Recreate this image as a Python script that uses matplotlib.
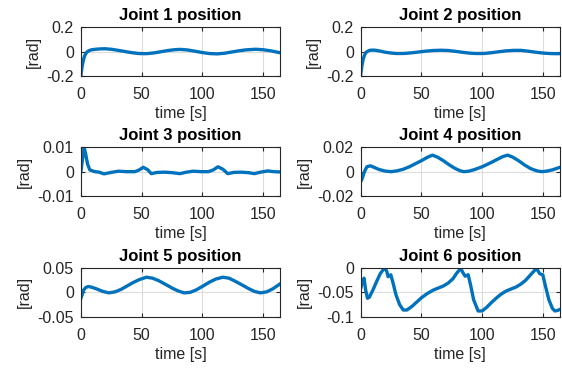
import matplotlib
matplotlib.use('Agg')
import matplotlib.pyplot as plt

plt.rcParams['font.family'] = ['Liberation Sans', 'DejaVu Sans']
plt.rcParams['axes.unicode_minus'] = False

# joint position data
t1 = [0, 1, 2, 3, 4, 5, 7, 9, 12, 16, 20, 25, 30, 36, 42, 48, 54, 60, 66, 72, 78, 82,
      88, 94, 100, 106, 112, 118, 124, 130, 136, 144, 150, 156, 160, 164]
j1 = [-0.19, -0.12, -0.07, -0.035, -0.015, -0.002, 0.01, 0.016, 0.02, 0.023, 0.024, 0.02,
      0.012, 0.002, -0.008, -0.015, -0.016, -0.01, 0.0, 0.01, 0.017, 0.019, 0.014, 0.004,
      -0.007, -0.015, -0.018, -0.013, -0.003, 0.007, 0.015, 0.02, 0.016, 0.008, 0.0, -0.008]

t2 = [0, 1, 2, 3, 4, 5, 7, 9, 12, 16, 20, 25, 30, 36, 42, 48, 54, 60, 66, 72, 78, 84,
      90, 96, 102, 108, 114, 120, 126, 132, 138, 144, 150, 156, 160, 164]
j2 = [-0.18, -0.11, -0.06, -0.03, -0.01, 0.0, 0.01, 0.013, 0.012, 0.005, -0.004, -0.011,
      -0.015, -0.014, -0.009, -0.002, 0.005, 0.01, 0.012, 0.01, 0.003, -0.005, -0.012,
      -0.015, -0.014, -0.008, 0.0, 0.007, 0.011, 0.011, 0.004, -0.004, -0.011, -0.015,
      -0.016, -0.016]

t3 = [0, 1, 2.7, 4, 5.5, 7.4, 11.5, 15, 19, 25, 31, 38, 44.5, 48, 51.4, 55, 58, 63, 69,
      75, 81.6, 87, 92.6, 99, 105, 109, 113, 117, 121, 126, 132, 138, 143, 148, 154, 159, 164]
j3 = [0.0, 0.004, 0.0098, 0.007, 0.003, 0.0007, 0.0, -0.0002, -0.0009, -0.0003, 0.0002,
      0.0, 0.0, 0.0007, 0.0018, 0.0008, -0.0008, -0.0003, -0.0002, -0.0004, -0.0008,
      -0.0002, 0.0002, 0.0, 0.0, 0.0007, 0.002, 0.001, -0.0008, -0.0003, -0.0002, -0.0004,
      -0.0008, -0.0002, 0.0003, 0.0, -0.0001]

t4 = [0, 1, 3, 5, 8, 11, 15, 20, 25, 30, 35, 40, 45, 50, 55, 59, 63, 68, 73, 78, 82, 85,
      89, 94, 100, 106, 112, 117, 121, 125, 130, 135, 140, 145, 149, 153, 158, 164]
j4 = [-0.008, -0.006, 0.0, 0.004, 0.0048, 0.0035, 0.0018, 0.0005, 0.0, 0.0007, 0.002,
      0.004, 0.0065, 0.009, 0.0118, 0.0135, 0.012, 0.009, 0.0055, 0.0025, 0.0007, 0.0,
      0.0004, 0.0018, 0.004, 0.0068, 0.0098, 0.0123, 0.0135, 0.012, 0.009, 0.0055, 0.0025,
      0.0007, 0.0, 0.0004, 0.0015, 0.0035]

t5 = [0, 1, 2, 4, 6, 9, 13, 18, 23, 28, 33, 38, 43, 48, 54, 59, 64, 70, 75, 80, 85, 90,
      95, 100, 106, 111, 117, 122, 127, 133, 138, 143, 148, 153, 158, 164]
j5 = [-0.012, -0.005, 0.004, 0.01, 0.012, 0.0105, 0.007, 0.002, -0.001, 0.001, 0.006,
      0.013, 0.02, 0.026, 0.031, 0.029, 0.024, 0.016, 0.009, 0.003, -0.001, 0.0, 0.005,
      0.012, 0.021, 0.027, 0.031, 0.029, 0.023, 0.015, 0.008, 0.002, -0.001, 0.001, 0.007,
      0.017]

t6 = [0, 1.2, 2.7, 4, 5.5, 7, 10, 13, 16, 18.4, 20.3, 21.5, 22.5, 24.7, 26.5, 29, 32, 35,
      38, 42, 46, 50, 55, 60, 64, 68, 72, 76, 79, 82.4, 84, 86, 88.5, 90.5, 93, 96.7, 100,
      104, 108, 112, 116, 120, 124, 128, 132, 136, 140.7, 144.8, 147.5, 150, 152, 155, 158,
      160, 162, 164]
j6 = [-0.041, -0.03, -0.021, -0.045, -0.062, -0.06, -0.045, -0.028, -0.012, -0.004,
      -0.001, -0.008, -0.018, -0.014, -0.03, -0.055, -0.075, -0.086, -0.086, -0.079, -0.07,
      -0.061, -0.052, -0.045, -0.041, -0.037, -0.031, -0.022, -0.011, -0.001, -0.009,
      -0.017, -0.014, -0.035, -0.065, -0.088, -0.088, -0.08, -0.07, -0.061, -0.053, -0.047,
      -0.043, -0.039, -0.033, -0.025, -0.012, -0.001, -0.012, -0.014, -0.035, -0.065,
      -0.083, -0.088, -0.087, -0.085]

times = [t1, t2, t3, t4, t5, t6]
joints = [j1, j2, j3, j4, j5, j6]
titles = ['Joint %d position' % (i + 1) for i in range(6)]
yticks = [[-0.2, 0, 0.2], [-0.2, 0, 0.2], [-0.01, 0, 0.01],
          [-0.02, 0, 0.02], [-0.05, 0, 0.05], [-0.1, -0.05, 0]]
ytick_labels = [['-0.2', '0', '0.2'], ['-0.2', '0', '0.2'], ['-0.01', '0', '0.01'],
                ['-0.02', '0', '0.02'], ['-0.05', '0', '0.05'], ['-0.1', '-0.05', '0']]
xticks = [0, 50, 100, 150]

fig = plt.figure(figsize=(5.62, 3.68), dpi=100)
lefts = [0.144, 0.642]
bottoms = [0.793, 0.467, 0.139]
w, h = 0.354, 0.133

for i in range(6):
    ax = fig.add_axes([lefts[i % 2], bottoms[i // 2], w, h])
    ax.plot(times[i], joints[i], color='#0072BD', linewidth=2.4)
    ax.set_xlim(0, 164)
    ax.set_ylim(yticks[i][0], yticks[i][-1])
    ax.set_xticks(xticks)
    ax.set_xticklabels([str(x) for x in xticks])
    ax.set_yticks(yticks[i])
    ax.set_yticklabels(ytick_labels[i])
    ax.grid(True, color='#dcdcdc', linewidth=0.8)
    ax.set_axisbelow(True)
    ax.tick_params(direction='in', length=3, labelsize=11.5, colors='#262626',
                   top=True, right=True, labelcolor='#262626')
    ax.tick_params(axis='x', pad=8)
    ax.tick_params(axis='y', pad=5)
    for s in ax.spines.values():
        s.set_color('#262626')
        s.set_linewidth(0.8)
    ax.set_title(titles[i], fontsize=12, fontweight='bold', pad=5)
    ax.set_xlabel('time [s]', fontsize=11.5, color='#262626', labelpad=3)
    ax.set_ylabel('[rad]', fontsize=11.5, color='#262626', labelpad=4)

fig.savefig('out.png', dpi=100)
